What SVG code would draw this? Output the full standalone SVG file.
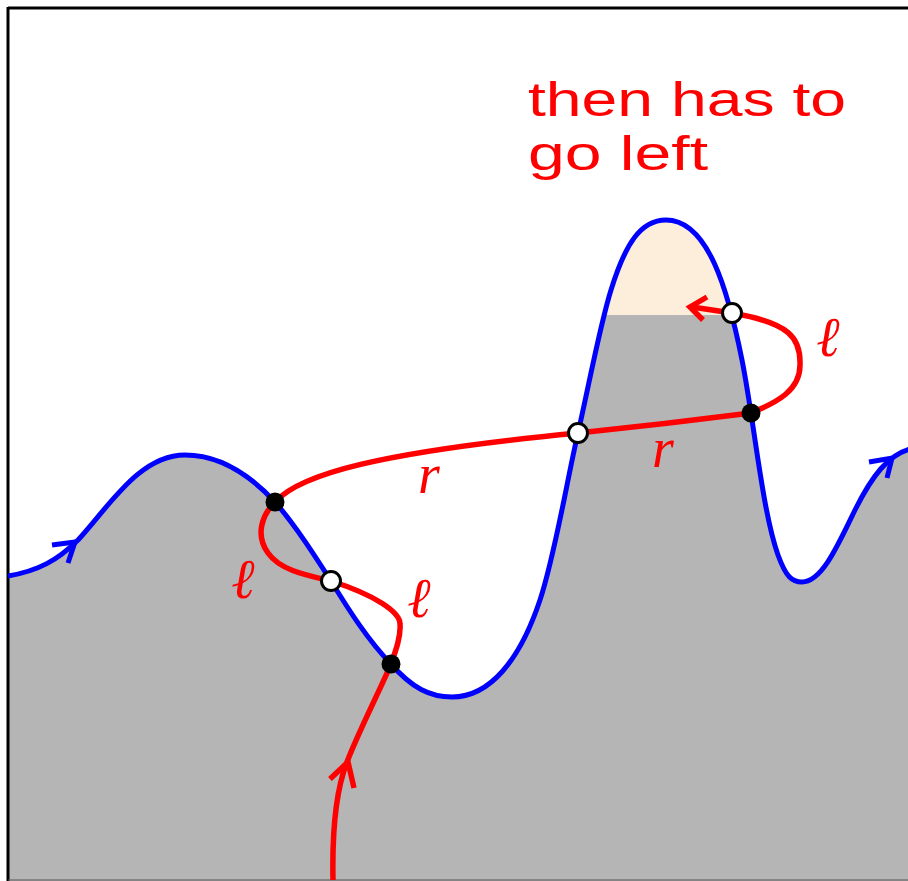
<svg xmlns="http://www.w3.org/2000/svg" width="908" height="881" viewBox="0 0 908 881">
<style>
.blue{fill:none;stroke:#0000ff;stroke-width:5;}
.red{fill:none;stroke:#ff0000;stroke-width:5.5;}
.dotb{fill:#000;}
.dotw{fill:#fff;stroke:#000;stroke-width:3;}
.lbl{font-family:"Liberation Serif","DejaVu Serif",serif;font-style:italic;font-size:56px;fill:#ff0000;text-anchor:middle;}
.note{font-family:"Liberation Sans","DejaVu Sans",sans-serif;font-size:48px;fill:#ff0000;}
</style>
<defs>
<clipPath id="landclip">
<path id="landshape" d="M 8,576 C 38,571 58,560 78,540 C 110,505 140,455 185,455 C 220,455 250,475 275,502 C 295,525 313,553 331,581 C 350,612 368,640 391,664 C 412,688 430,697 452,697 C 490,697 520,660 540,600 C 555,555 567,480 578,433 C 590,380 600,325 611,290 C 625,245 640,220 666,220 C 708,220 728,290 742,360 C 754,420 762,510 778,555 C 786,577 792,582 802,582 C 822,582 838,545 855,510 C 872,476 888,455 910,449 L 910,882 L 8,882 Z"/>
</clipPath>
</defs>
<rect width="908" height="881" fill="#fff"/>
<g id="land">
<use href="#landshape" fill="#b5b5b5"/>
<rect x="580" y="200" width="200" height="115" fill="#fdeedc" clip-path="url(#landclip)"/>
</g>
<g id="frame">
<line x1="8" y1="8" x2="908" y2="8" stroke="#000" stroke-width="3"/>
<line x1="8" y1="7" x2="8" y2="881" stroke="#000" stroke-width="3"/>
<line x1="8" y1="880" x2="908" y2="880" stroke="#555" stroke-width="1"/>
</g>
<g id="connectors">
<path id="boundary" class="blue" d="M 8,576 C 38,571 58,560 78,540 C 110,505 140,455 185,455 C 220,455 250,475 275,502 C 295,525 313,553 331,581 C 350,612 368,640 391,664 C 412,688 430,697 452,697 C 490,697 520,660 540,600 C 555,555 567,480 578,433 C 590,380 600,325 611,290 C 625,245 640,220 666,220 C 708,220 728,290 742,360 C 754,420 762,510 778,555 C 786,577 792,582 802,582 C 822,582 838,545 855,510 C 872,476 888,455 910,449"/>
<path class="blue" d="M 52,545 L 75,542 L 68,563"/>
<path class="blue" d="M 869,462 L 892,458 L 887,478"/>
<path id="walk" class="red" d="M 333,880 C 332,830 336,790 347,762 C 358,733 380,690 391,664 C 396,650 401,636 400,624 C 400,612 375,595 331,581 C 305,575 280,570 268,553 C 255,535 262,515 275,502 C 300,474 380,452 578,433 Q 665,424 751,413 C 778,402 800,390 800,365 C 801,338 790,323 732,313 L 692,307"/>
<path class="red" d="M 330,779 L 348,762 L 354,788"/>
<path class="red" d="M 707,297 L 690,307 L 703,320"/>
</g>
<g id="dot1"><circle class="dotb" cx="275" cy="502" r="9.5"/></g>
<g id="dot2"><circle class="dotw" cx="331" cy="581" r="9.5"/></g>
<g id="dot3"><circle class="dotb" cx="391" cy="664" r="9.5"/></g>
<g id="dot4"><circle class="dotw" cx="578" cy="433" r="9.5"/></g>
<g id="dot5"><circle class="dotb" cx="751" cy="413" r="9.5"/></g>
<g id="dot6"><circle class="dotw" cx="732" cy="313" r="9.5"/></g>
<g id="labels">
<text class="lbl" x="243" y="598">ℓ</text>
<text class="lbl" x="419" y="617">ℓ</text>
<text class="lbl" x="828" y="356">ℓ</text>
<text class="lbl" x="429" y="493">r</text>
<text class="lbl" x="663" y="467">r</text>
</g>
<g id="note">
<text class="note" x="528" y="116" textLength="318" lengthAdjust="spacingAndGlyphs">then has to</text>
<text class="note" x="528" y="170" textLength="180" lengthAdjust="spacingAndGlyphs">go left</text>
</g>
</svg>
